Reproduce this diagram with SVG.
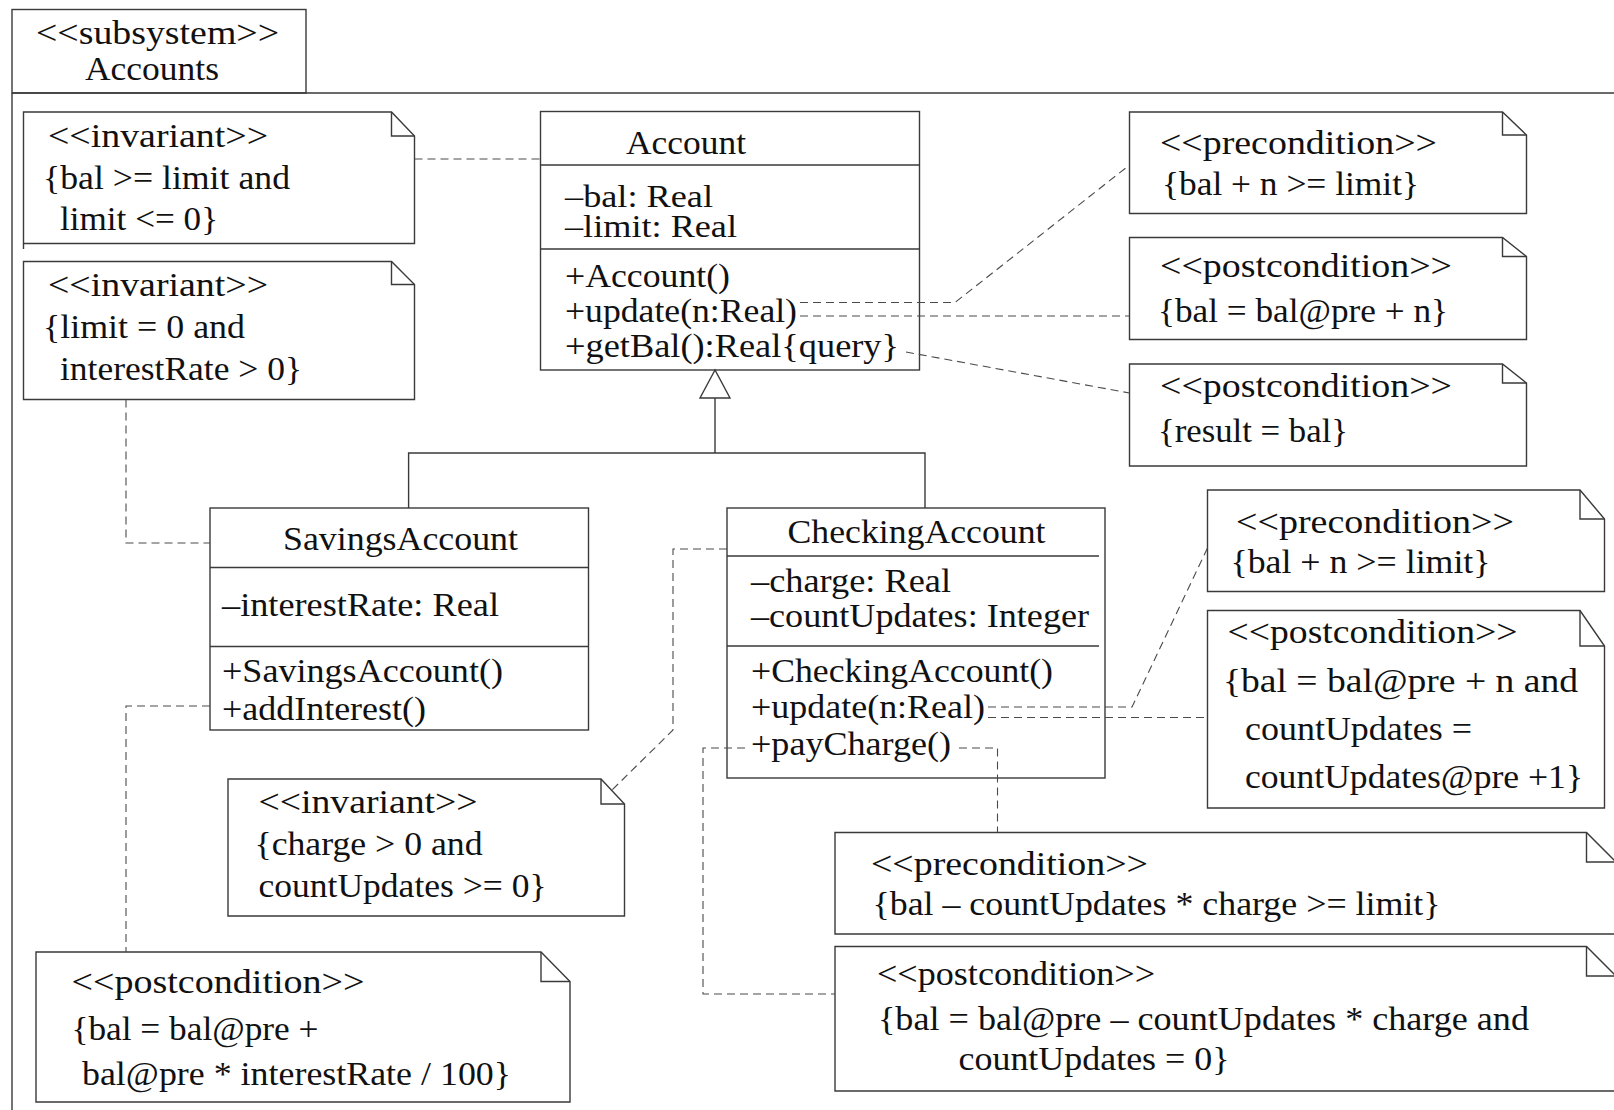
<svg xmlns="http://www.w3.org/2000/svg" width="1614" height="1110" viewBox="0 0 1614 1110">
<defs>
<style>
.ln{fill:none;stroke:#3a3a3a;stroke-width:1.4}
.box{fill:#ffffff;stroke:#3a3a3a;stroke-width:1.4}
.dash{fill:none;stroke:#4a4a4a;stroke-width:1.1;stroke-dasharray:8 5}
text{font-family:"Liberation Serif","Times New Roman",serif;font-size:34px;fill:#111111}
.sm{font-size:32px}
</style>
</defs>
<rect width="1614" height="1110" fill="#ffffff"/>
<g id="frame">
<rect class="box" x="12" y="9.5" width="294" height="83.5"/>
<path class="ln" d="M12,93 H1620 M12,93 V1112"/>
<text x="36" y="43.5" textLength="243" lengthAdjust="spacingAndGlyphs">&lt;&lt;subsystem&gt;&gt;</text>
<text x="85" y="80" textLength="134" lengthAdjust="spacingAndGlyphs">Accounts</text>
</g>
<g id="inv1">
<path class="box" d="M23.5,112 H391.5 L414.5,136 V243.5 H23.5 Z"/>
<path class="ln" d="M391.5,112 V136 H414.5 M23.5,243.5 V249"/>
<text x="48" y="146.5" textLength="220" lengthAdjust="spacingAndGlyphs">&lt;&lt;invariant&gt;&gt;</text>
<text x="43" y="189" textLength="247" lengthAdjust="spacingAndGlyphs">{bal &gt;= limit and</text>
<text x="60" y="230" textLength="158" lengthAdjust="spacingAndGlyphs">limit &lt;= 0}</text>
</g>
<g id="inv2">
<path class="box" d="M23.5,261.5 H391.5 L414.5,284.5 V399.5 H23.5 Z"/>
<path class="ln" d="M391.5,261.5 V284.5 H414.5"/>
<text x="48" y="296" textLength="220" lengthAdjust="spacingAndGlyphs">&lt;&lt;invariant&gt;&gt;</text>
<text x="43" y="338" textLength="202" lengthAdjust="spacingAndGlyphs">{limit = 0 and</text>
<text x="60" y="380" textLength="242" lengthAdjust="spacingAndGlyphs">interestRate &gt; 0}</text>
</g>
<g id="Account">
<rect class="box" x="540.5" y="111.5" width="379" height="258.5"/>
<path class="ln" d="M540.5,165 H919.5 M540.5,249 H919.5"/>
<text x="626" y="153.5" textLength="120" lengthAdjust="spacingAndGlyphs">Account</text>
<text class="sm" x="565" y="207" textLength="148" lengthAdjust="spacingAndGlyphs">–bal: Real</text>
<text class="sm" x="565" y="237" textLength="172" lengthAdjust="spacingAndGlyphs">–limit: Real</text>
<text x="565" y="286.5" textLength="165" lengthAdjust="spacingAndGlyphs">+Account()</text>
<text x="565" y="321.5" textLength="232" lengthAdjust="spacingAndGlyphs">+update(n:Real)</text>
<text x="565" y="356.5" textLength="334" lengthAdjust="spacingAndGlyphs">+getBal():Real{query}</text>
</g>
<g id="preA">
<path class="box" d="M1129.5,112 H1502.5 L1526.5,135 V213.5 H1129.5 Z"/>
<path class="ln" d="M1502.5,112 V135 H1526.5"/>
<text x="1160" y="153.5" textLength="277" lengthAdjust="spacingAndGlyphs">&lt;&lt;precondition&gt;&gt;</text>
<text x="1162" y="195" textLength="257" lengthAdjust="spacingAndGlyphs">{bal + n &gt;= limit}</text>
</g>
<g id="postB">
<path class="box" d="M1129.5,237.5 H1502.5 L1526.5,256.5 V339.5 H1129.5 Z"/>
<path class="ln" d="M1502.5,237.5 V256.5 H1526.5"/>
<text x="1160" y="276.5" textLength="292" lengthAdjust="spacingAndGlyphs">&lt;&lt;postcondition&gt;&gt;</text>
<text x="1158" y="321.5" textLength="290" lengthAdjust="spacingAndGlyphs">{bal = bal@pre + n}</text>
</g>
<g id="postC">
<path class="box" d="M1129.5,364 H1502.5 L1526.5,383 V466 H1129.5 Z"/>
<path class="ln" d="M1502.5,364 V383 H1526.5"/>
<text x="1160" y="396.5" textLength="292" lengthAdjust="spacingAndGlyphs">&lt;&lt;postcondition&gt;&gt;</text>
<text x="1158" y="441.5" textLength="190" lengthAdjust="spacingAndGlyphs">{result = bal}</text>
</g>
<g id="SavingsAccount">
<rect class="box" x="210" y="508" width="378.5" height="222"/>
<path class="ln" d="M210,567.5 H588.5 M210,646.5 H588.5"/>
<text x="283" y="550" textLength="235" lengthAdjust="spacingAndGlyphs">SavingsAccount</text>
<text x="222" y="615.5" textLength="277" lengthAdjust="spacingAndGlyphs">–interestRate: Real</text>
<text x="222" y="681.5" textLength="281" lengthAdjust="spacingAndGlyphs">+SavingsAccount()</text>
<text x="222" y="719.5" textLength="204" lengthAdjust="spacingAndGlyphs">+addInterest()</text>
</g>
<g id="CheckingAccount">
<rect class="box" x="727" y="508" width="378" height="270"/>
<path class="ln" d="M727,556 H1099 M727,646 H1099"/>
<text x="787.5" y="543" textLength="258" lengthAdjust="spacingAndGlyphs">CheckingAccount</text>
<text x="751" y="591.5" textLength="200" lengthAdjust="spacingAndGlyphs">–charge: Real</text>
<text x="751" y="626.5" textLength="338" lengthAdjust="spacingAndGlyphs">–countUpdates: Integer</text>
<text x="751" y="681.5" textLength="302" lengthAdjust="spacingAndGlyphs">+CheckingAccount()</text>
<text x="751" y="718" textLength="234" lengthAdjust="spacingAndGlyphs">+update(n:Real)</text>
<text x="751" y="755" textLength="200" lengthAdjust="spacingAndGlyphs">+payCharge()</text>
</g>
<g id="inv3">
<path class="box" d="M228,779 H601 L624.5,804 V916 H228 Z"/>
<path class="ln" d="M601,779 V804 H624.5"/>
<text x="258.5" y="813" textLength="219" lengthAdjust="spacingAndGlyphs">&lt;&lt;invariant&gt;&gt;</text>
<text x="254.5" y="855" textLength="228" lengthAdjust="spacingAndGlyphs">{charge &gt; 0 and</text>
<text x="258.5" y="897" textLength="288" lengthAdjust="spacingAndGlyphs">countUpdates &gt;= 0}</text>
</g>
<g id="postSav">
<path class="box" d="M36,952 H541 L570,981.5 V1102 H36 Z"/>
<path class="ln" d="M541,952 V981.5 H570"/>
<text x="71.5" y="993" textLength="293" lengthAdjust="spacingAndGlyphs">&lt;&lt;postcondition&gt;&gt;</text>
<text x="71.5" y="1040" textLength="247" lengthAdjust="spacingAndGlyphs">{bal = bal@pre +</text>
<text x="82" y="1085" textLength="429" lengthAdjust="spacingAndGlyphs">bal@pre * interestRate / 100}</text>
</g>
<g id="preD">
<path class="box" d="M1207.5,490 H1580 L1604.5,519 V591.5 H1207.5 Z"/>
<path class="ln" d="M1580,490 V519 H1604.5"/>
<text x="1236" y="533" textLength="278" lengthAdjust="spacingAndGlyphs">&lt;&lt;precondition&gt;&gt;</text>
<text x="1230.5" y="572.5" textLength="260" lengthAdjust="spacingAndGlyphs">{bal + n &gt;= limit}</text>
</g>
<g id="postE">
<path class="box" d="M1207.5,610.5 H1580 L1604.5,646 V808 H1207.5 Z"/>
<path class="ln" d="M1580,610.5 V646 H1604.5"/>
<text x="1227.5" y="643" textLength="290" lengthAdjust="spacingAndGlyphs">&lt;&lt;postcondition&gt;&gt;</text>
<text x="1223" y="691.5" textLength="355" lengthAdjust="spacingAndGlyphs">{bal = bal@pre + n and</text>
<text x="1245" y="740" textLength="227" lengthAdjust="spacingAndGlyphs">countUpdates =</text>
<text x="1245" y="788" textLength="338" lengthAdjust="spacingAndGlyphs">countUpdates@pre +1}</text>
</g>
<g id="preF">
<path class="box" d="M835,832.5 H1586.5 L1616,862 V934 H835 Z"/>
<path class="ln" d="M1586.5,832.5 V862 H1616"/>
<text x="871" y="875" textLength="277" lengthAdjust="spacingAndGlyphs">&lt;&lt;precondition&gt;&gt;</text>
<text x="872.5" y="915" textLength="568" lengthAdjust="spacingAndGlyphs">{bal – countUpdates * charge &gt;= limit}</text>
</g>
<g id="postG">
<path class="box" d="M835,946.5 H1586.5 L1616,976 V1091 H835 Z"/>
<path class="ln" d="M1586.5,946.5 V976 H1616"/>
<text x="877" y="985" textLength="278" lengthAdjust="spacingAndGlyphs">&lt;&lt;postcondition&gt;&gt;</text>
<text x="878" y="1030" textLength="651" lengthAdjust="spacingAndGlyphs">{bal = bal@pre – countUpdates * charge and</text>
<text x="958.5" y="1070" textLength="271" lengthAdjust="spacingAndGlyphs">countUpdates = 0}</text>
</g>
<g id="connectors">
<path class="dash" d="M414.5,159 H540.5"/>
<path class="dash" d="M800,302.5 H955 L1129.5,165"/>
<path class="dash" d="M800,316 H1129.5"/>
<path class="dash" d="M906,352 L1129.5,393"/>
<path class="dash" d="M126,399.5 V543 H210"/>
<path class="dash" d="M210,706 H126 V952"/>
<path class="dash" d="M727,549 H673 V730 L612,790"/>
<path class="dash" d="M988,707 H1132 L1207.5,548"/>
<path class="dash" d="M988,717.5 H1207.5"/>
<path class="dash" d="M745,748 H703 V994 H835"/>
<path class="dash" d="M959,748 H997.5 V832.5"/>
<path class="ln" d="M715,398 V453 M408.6,508 V453 H925 V508"/>
<polygon class="box" points="715,370 700,398 730,398"/>
</g>
</svg>
